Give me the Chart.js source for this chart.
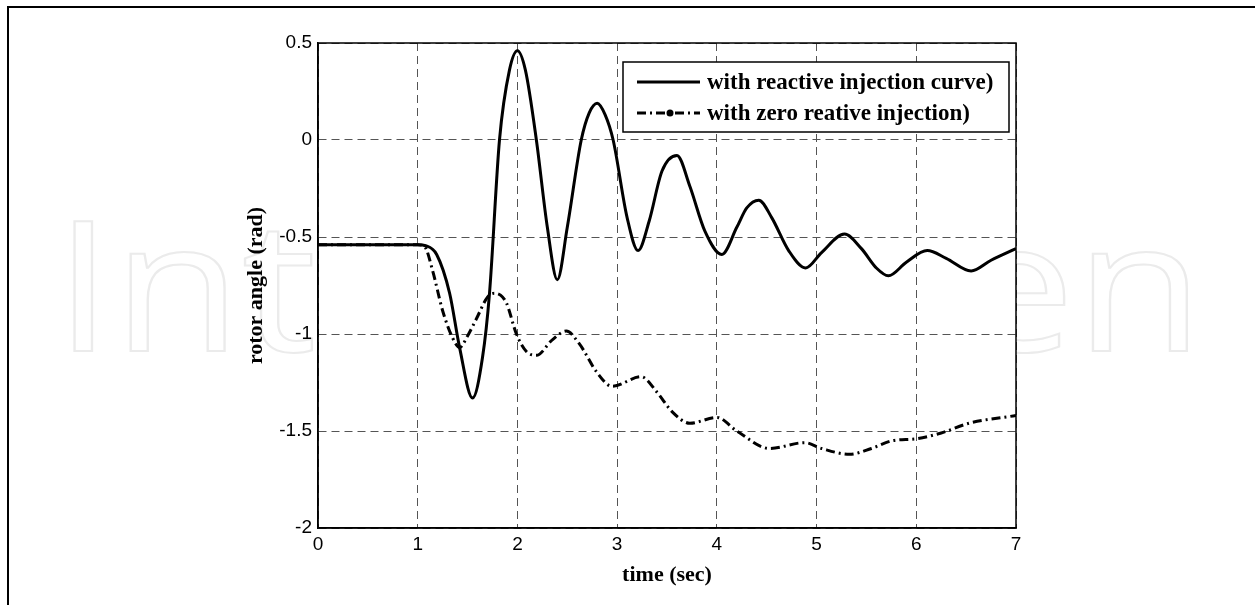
<!DOCTYPE html>
<html>
<head>
<meta charset="utf-8">
<script src="https://cdn.jsdelivr.net/npm/chart.js@4.4.0/dist/chart.umd.min.js"></script>
<style>
  html, body { margin: 0; padding: 0; background: #fff; }
  #wrap { position: relative; width: 1255px; height: 605px; overflow: hidden; }
  #frame { position: absolute; left: 7px; top: 6px; right: -5px; bottom: -5px;
           border-left: 2px solid #000; border-top: 2px solid #000; pointer-events: none; }
</style>
</head>
<body>
<div id="wrap">
  <canvas id="rotorChart" width="1255" height="605"></canvas>
  <div id="frame"></div>
</div>
<script>
// time (sec) and rotor angle (rad)
const reactiveTime = [0, 0.5, 1.0, 1.08, 1.19, 1.32, 1.42, 1.55, 1.65, 1.72, 1.82, 1.92, 2.0, 2.08, 2.19, 2.30, 2.40, 2.50,
    2.64, 2.72, 2.80, 2.88, 2.96, 3.10, 3.21, 3.32, 3.45, 3.60, 3.73, 3.88, 4.05, 4.20, 4.30, 4.42, 4.55, 4.72, 4.89,
    5.05, 5.28, 5.45, 5.60, 5.72, 5.90, 6.11, 6.30, 6.55, 6.75, 7.0];
const reactiveAngle = [-0.54, -0.54, -0.54, -0.545, -0.59, -0.79, -1.07, -1.33, -1.12, -0.79, 0.0, 0.36, 0.46, 0.36, 0.0, -0.45, -0.72, -0.45,
    0.0, 0.14, 0.19, 0.13, 0.0, -0.40, -0.57, -0.42, -0.16, -0.08, -0.24, -0.47, -0.59, -0.45, -0.35, -0.31, -0.40, -0.57, -0.66,
    -0.58, -0.485, -0.56, -0.66, -0.70, -0.63, -0.57, -0.61, -0.675, -0.62, -0.56];

const zeroTime = [0, 0.5, 1.0, 1.07, 1.15, 1.25, 1.35, 1.42, 1.50, 1.59, 1.70, 1.77, 1.83, 1.89, 1.99, 2.09, 2.19, 2.35, 2.49,
    2.62, 2.80, 2.95, 3.24, 3.40, 3.55, 3.73, 4.0, 4.20, 4.53, 4.88, 5.05, 5.33, 5.55, 5.76, 6.0, 6.25, 6.53, 7.0];
const zeroAngle = [-0.54, -0.54, -0.54, -0.55, -0.675, -0.88, -1.02, -1.07, -1.01, -0.92, -0.81, -0.79, -0.80, -0.84, -1.0, -1.09, -1.11, -1.03, -0.985,
    -1.05, -1.20, -1.27, -1.22, -1.30, -1.40, -1.46, -1.43, -1.50, -1.59, -1.56, -1.59, -1.62, -1.59, -1.55, -1.54, -1.51, -1.46, -1.42];

const seriesLabels = ['with reactive injection curve)', 'with zero reative injection)'];
const xTicks = [0, 1, 2, 3, 4, 5, 6, 7];
const yTicks = [-2, -1.5, -1, -0.5, 0, 0.5];

const dashDot = [9, 4, 2, 4];

function toPoints(xs, ys) {
    return xs.map((x, i) => ({ x: x, y: ys[i] }));
}

// faint watermark, white plot background, box around the axes and the legend
const backdropPlugin = {
    id: 'backdrop',
    beforeDraw(chart) {
        const ctx = chart.ctx;
        ctx.save();
        ctx.font = '182px "Open Sans"';
        const w = ctx.measureText('IntechOpen').width;
        ctx.translate(54, 351);
        ctx.scale(1150 / w, 1);
        ctx.strokeStyle = '#ebebeb';
        ctx.lineWidth = 2;
        ctx.strokeText('IntechOpen', 0, 0);
        ctx.restore();
        const a = chart.chartArea;
        ctx.save();
        ctx.fillStyle = '#fff';
        ctx.fillRect(a.left, a.top, a.right - a.left, a.bottom - a.top);
        ctx.restore();
    },
    afterDraw(chart) {
        const ctx = chart.ctx;
        const a = chart.chartArea;
        ctx.save();
        ctx.strokeStyle = '#000';
        ctx.lineWidth = 1.5;
        ctx.strokeRect(a.left, a.top, a.right - a.left, a.bottom - a.top);

        const bx = a.right - 393, by = a.top + 19, bw = 386, bh = 70;
        ctx.fillStyle = '#fff';
        ctx.fillRect(bx, by, bw, bh);
        ctx.lineWidth = 1.5;
        ctx.strokeRect(bx, by, bw, bh);
        ctx.font = 'bold 23px "Liberation Serif"';
        ctx.fillStyle = '#000';
        ctx.textBaseline = 'middle';
        chart.data.datasets.forEach((ds, i) => {
            const y = by + 20 + i * 31;
            ctx.strokeStyle = '#000';
            ctx.lineWidth = 3;
            ctx.setLineDash(ds.borderDash || []);
            ctx.beginPath();
            ctx.moveTo(bx + 14, y);
            ctx.lineTo(bx + 77, y);
            ctx.stroke();
            ctx.setLineDash([]);
            if (ds.borderDash) {
                ctx.beginPath();
                ctx.arc(bx + 47, y, 3.5, 0, Math.PI * 2);
                ctx.fill();
            }
            ctx.fillText(ds.label, bx + 84, y + 1);
        });
        ctx.restore();
    }
};

const ctx = document.getElementById('rotorChart').getContext('2d');
const rotorChart = new Chart(ctx, {
    type: 'line',
    data: {
        datasets: [{
            label: seriesLabels[0],
            data: toPoints(reactiveTime, reactiveAngle),
            borderColor: '#000',
            borderWidth: 3,
            pointRadius: 0,
            cubicInterpolationMode: 'monotone'
        }, {
            label: seriesLabels[1],
            data: toPoints(zeroTime, zeroAngle),
            borderColor: '#000',
            borderWidth: 3,
            borderDash: dashDot,
            pointRadius: 0,
            cubicInterpolationMode: 'monotone'
        }]
    },
    options: {
        responsive: false,
        animation: false,
        events: [],
        layout: { padding: { left: 240, right: 239, top: 43, bottom: 0 } },
        plugins: {
            legend: { display: false },
            tooltip: { enabled: false }
        },
        scales: {
            x: {
                type: 'linear',
                min: 0,
                max: 7,
                afterBuildTicks: axis => { axis.ticks = xTicks.map(v => ({ value: v })); },
                afterFit: axis => { axis.height = 77; },
                grid: { color: '#555', lineWidth: 1, drawTicks: false },
                border: { display: true, color: '#000', width: 1.5, dash: [8, 5] },
                ticks: {
                    padding: 5,
                    color: '#000',
                    font: { family: '"Liberation Sans"', size: 19 },
                    callback: v => String(v)
                },
                title: {
                    display: true,
                    text: 'time (sec)',
                    color: '#000',
                    font: { family: '"Liberation Serif"', size: 22, weight: 'bold' },
                    padding: { top: 2, bottom: 16 }
                }
            },
            y: {
                type: 'linear',
                min: -2,
                max: 0.5,
                afterBuildTicks: axis => { axis.ticks = yTicks.map(v => ({ value: v })); },
                afterFit: axis => { axis.width = 78; },
                grid: { color: '#555', lineWidth: 1, drawTicks: false },
                border: { display: true, color: '#000', width: 1.5, dash: [8, 5] },
                ticks: {
                    padding: 6,
                    color: '#000',
                    font: { family: '"Liberation Sans"', size: 19 },
                    callback: v => String(v)
                },
                title: {
                    display: true,
                    text: 'rotor angle (rad)',
                    color: '#000',
                    font: { family: '"Liberation Serif"', size: 22, weight: 'bold' },
                    padding: { top: 3, bottom: 0 }
                }
            }
        }
    },
    plugins: [backdropPlugin]
});
</script>
</body>
</html>
